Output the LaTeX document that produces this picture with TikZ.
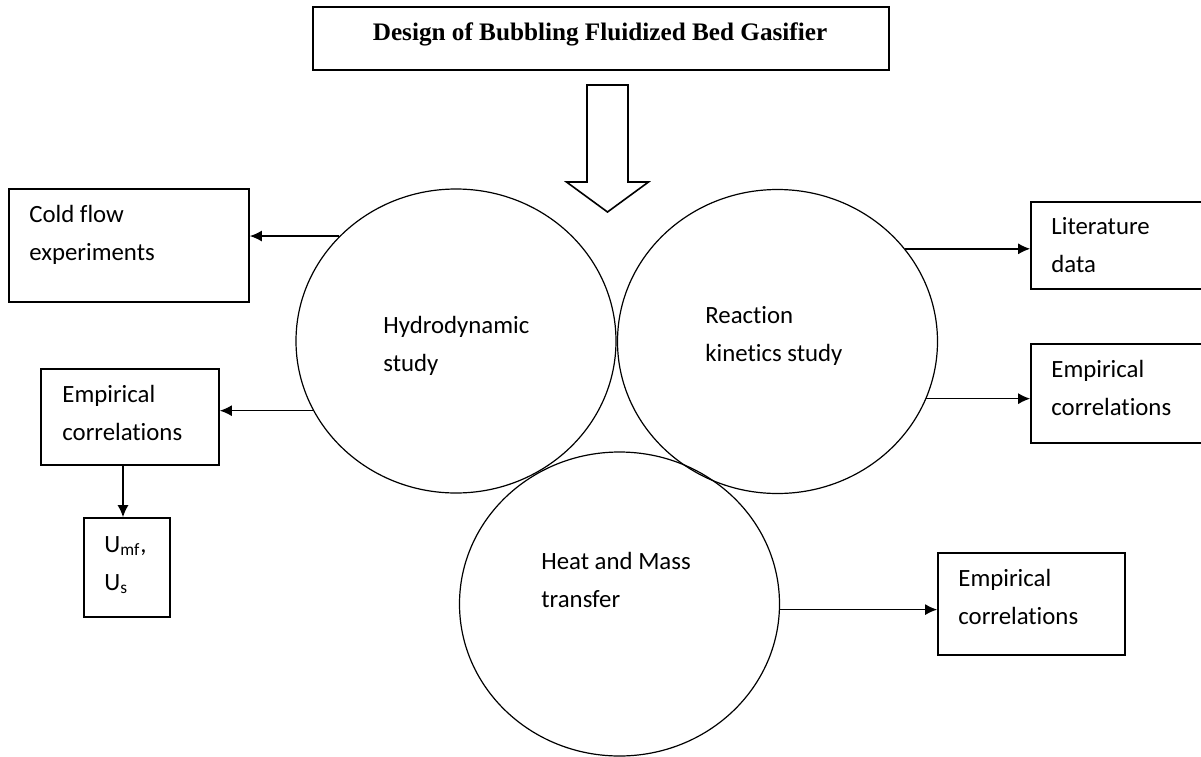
\documentclass[tikz,border=0pt]{standalone}
\usepackage{fontspec}
\setmainfont[Ligatures=NoCommon]{Carlito}
\newfontfamily\titlefont{Liberation Serif}
\usetikzlibrary{shapes.geometric,arrows.meta}
\begin{document}
\begin{tikzpicture}[x=0.5pt,y=-0.5pt,
  bubble/.style={draw, ellipse, line width=0.6pt, minimum width=160pt, minimum height=152pt, inner sep=0pt},
  box/.style={draw, rectangle, line width=0.8pt, inner sep=0pt},
  lbl/.style={anchor=base west, align=left, inner sep=0pt, font=\fontsize{12.4}{19}\selectfont},
  arr/.style={-{Latex[length=6pt,width=5.5pt]}, line width=0.75pt},
]
\useasboundingbox (0,0) rectangle (1201,756);
\clip (0,0) rectangle (1201,756);

% title
\node[box, minimum width=288pt, minimum height=31.5pt] (title) at (601,38.5) {};
\node[anchor=base, inner sep=0pt, font=\titlefont\bfseries\fontsize{12.6}{15}\selectfont] (titletext) at (600,40) {Design of Bubbling Fluidized Bed Gasifier};

% block arrow
\coordinate (bat) at (587,85);
\draw[line width=0.8pt, line join=miter] (bat) -- ++(41,0) -- ++(0,97) -- ++(20.5,0) -- ++(-41,30) -- ++(-41,-30) -- ++(20.5,0) -- cycle;

% bubbles
\node[bubble] (hydro) at (456,341) {};
\node[bubble] (react) at (777.5,341.5) {};
\node[bubble] (heat) at (619.5,604) {};

% labels (anchor = baseline of last line)
\node[lbl] (hydrot) at (383,371) {Hydrodynamic\\study};
\node[lbl] (reactt) at (705,361) {Reaction\\kinetics study};
\node[lbl] (heatt) at (541,607) {Heat and Mass\\transfer};

% boxes
\node[box, minimum width=120pt, minimum height=56.5pt] (cold) at (129,245.5) {};
\node[lbl] (coldt) at (29,260) {Cold flow\\experiments};
\node[box, minimum width=89pt, minimum height=48pt] (emp1) at (130,417) {};
\node[lbl] (emp1t) at (62,440) {Empirical\\correlations};
\node[box, minimum width=43pt, minimum height=49.5pt] (umf) at (127,567.5) {};
\node[lbl] (umft) at (104,590) {U\textsubscript{mf},\\U\textsubscript{s}};
\node[box, minimum width=92pt, minimum height=43.5pt] (lit) at (1123,245.5) {};
\node[lbl] (litt) at (1051,272) {Literature\\data};
\node[box, minimum width=92pt, minimum height=49.5pt] (emp2) at (1123,393.5) {};
\node[lbl] (emp2t) at (1051,415) {Empirical\\correlations};
\node[box, minimum width=93.5pt, minimum height=51pt] (emp3) at (1031.5,604) {};
\node[lbl] (emp3t) at (958,624) {Empirical\\correlations};

% connectors
\draw[arr] (hydro.138) -- (cold.east |- hydro.138);
\draw[arr] (hydro.206) -- (emp1.east |- hydro.206);
\coordinate (dn) at ([xshift=-2pt]umf.north);
\draw[arr] (dn |- emp1.south) -- (dn);
\draw[arr] (react.36) -- (lit.west |- react.36);
\draw[arr] (react.-21) -- (emp2.west |- react.-21);
\draw[arr] (heat.-2) -- (emp3.west |- heat.-2);
\end{tikzpicture}
\end{document}
